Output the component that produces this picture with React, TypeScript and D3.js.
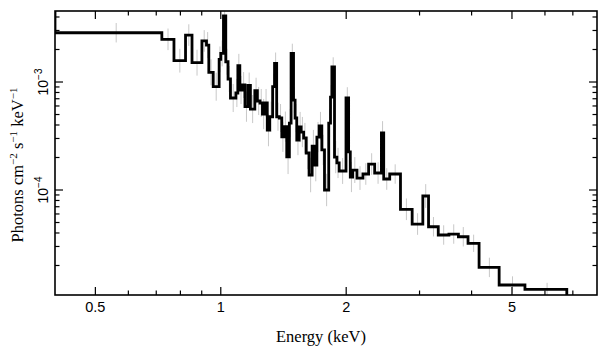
import React from 'react';
import * as d3 from 'd3';

// Bin edges (keV) and unfolded flux (photons cm^-2 s^-1 keV^-1)
const edges = [
  0.4, 0.722, 0.772, 0.823, 0.853, 0.901, 0.924, 0.936, 0.959, 0.991,
  1.0, 1.015, 1.028, 1.041, 1.055, 1.087, 1.099, 1.111, 1.126, 1.143,
  1.162, 1.178, 1.207, 1.224, 1.242, 1.259, 1.276, 1.293, 1.31, 1.332,
  1.346, 1.362, 1.382, 1.401, 1.418, 1.44, 1.461, 1.475, 1.495, 1.508,
  1.522, 1.542, 1.559, 1.581, 1.603, 1.629, 1.657, 1.68, 1.701, 1.722,
  1.748, 1.774, 1.816, 1.834, 1.848, 1.875, 1.9, 1.924, 1.998, 2.027,
  2.046, 2.072, 2.123, 2.194, 2.264, 2.341, 2.43, 2.461, 2.544, 2.7,
  2.88, 3.055, 3.153, 3.327, 3.529, 3.719, 3.922, 4.169, 4.658, 5.372,
  6.77,
];

const flux = [
  2.86e-3, 2.485e-3, 1.575e-3, 2.72e-3, 1.51e-3, 2.4e-3, 2.2e-3, 1.23e-3, 9.05e-4, 1.62e-3,
  1.84e-3, 4.09e-3, 1.54e-3, 1.066e-3, 7.11e-4, 7.91e-4, 1.415e-3, 8.43e-4, 9.38e-4, 5.91e-4,
  9.28e-4, 5.62e-4, 8.31e-4, 6.67e-4, 6.39e-4, 5.05e-4, 6.39e-4, 3.59e-4, 4.77e-4, 9.05e-4,
  1.49e-3, 4.77e-4, 4.64e-4, 3.11e-4, 3.86e-4, 2.03e-4, 4.17e-4, 1.84e-3, 6.81e-4, 4.64e-4,
  2.9e-4, 3.83e-4, 3.44e-4, 3.03e-4, 2.2e-4, 1.377e-4, 2.55e-4, 1.7e-4, 3.09e-4, 3.92e-4,
  2.35e-4, 1.0e-4, 4.17e-4, 7.26e-4, 1.377e-3, 2.02e-4, 1.78e-4, 1.5e-4, 7.11e-4, 2.25e-4,
  1.32e-4, 1.53e-4, 1.29e-4, 1.406e-4, 1.74e-4, 1.437e-4, 3.37e-4, 1.264e-4, 1.406e-4, 6.63e-5,
  4.84e-5, 8.8e-5, 4.57e-5, 3.83e-5, 3.91e-5, 3.69e-5, 3.21e-5, 1.92e-5, 1.32e-5, 1.204e-5,
];

// Half-length of the error bars (dex)
const errDex = [
  0.09, 0.1, 0.11, 0.1, 0.12, 0.1, 0.12, 0.12, 0.13, 0.12,
  0.12, 0.08, 0.12, 0.12, 0.13, 0.13, 0.11, 0.13, 0.12, 0.14,
  0.12, 0.13, 0.12, 0.13, 0.13, 0.14, 0.13, 0.15, 0.14, 0.12,
  0.1, 0.13, 0.13, 0.14, 0.14, 0.16, 0.13, 0.09, 0.12, 0.13,
  0.14, 0.14, 0.14, 0.14, 0.15, 0.16, 0.15, 0.15, 0.14, 0.13,
  0.14, 0.15, 0.13, 0.11, 0.09, 0.15, 0.14, 0.12, 0.1, 0.13,
  0.14, 0.12, 0.11, 0.1, 0.1, 0.1, 0.11, 0.1, 0.09, 0.1,
  0.1, 0.11, 0.09, 0.09, 0.09, 0.09, 0.08, 0.09, 0.08, 0.06,
];

const xDomain = [0.4, 8];
const yDomain = [1.066e-5, 4.545e-3];
const xMajor = [0.5, 1, 2, 5];
const xMinor = [0.6, 0.7, 0.8, 0.9, 3, 4, 6, 7];
const yMajor = [1e-4, 1e-3];
const yMajorExp = ['−4', '−3'];
const yMinor = [2e-5, 3e-5, 4e-5, 5e-5, 6e-5, 7e-5, 8e-5, 9e-5, 2e-4, 3e-4, 4e-4, 5e-4, 6e-4, 7e-4, 8e-4, 9e-4, 2e-3, 3e-3, 4e-3];

const W = 608, H = 357;
const L = 55, R = 597, T = 11, B = 295;

export default function App() {
  const x = d3.scaleLog().domain(xDomain).range([L, R]);
  const y = d3.scaleLog().domain(yDomain).range([B, T]);

  const pts: [number, number][] = [];
  pts.push([x(edges[0]), T]);
  flux.forEach((f, i) => {
    pts.push([x(edges[i]), y(f)]);
    pts.push([x(edges[i + 1]), y(f)]);
  });
  pts.push([x(edges[edges.length - 1]), B]);
  const line = d3.line();
  const sans = 'Liberation Sans, Arial, Helvetica, sans-serif';
  const serif = 'Liberation Serif, Times New Roman, serif';

  return (
    <svg width={W} height={H} style={{ position: 'absolute', left: 0, top: 0, background: '#fff' }}>
      <defs>
        <clipPath id="plot">
          <rect x={L} y={T} width={R - L} height={B - T} />
        </clipPath>
      </defs>
      <g clipPath="url(#plot)">
        {flux.map((f, i) => {
          const cx = x((edges[i] + edges[i + 1]) / 2);
          const e = Math.pow(10, errDex[i]);
          return <line key={i} x1={cx} x2={cx} y1={y(f * e)} y2={y(f / e)} stroke="#c8c8c8" strokeWidth={1} />;
        })}
        <path d={line(pts) || ''} fill="none" stroke="#000" strokeWidth={2.8} strokeLinejoin="miter" />
      </g>
      {/* ticks */}
      <g stroke="#000" strokeWidth={1.2}>
        {xMajor.map((v) => (
          <g key={'xm' + v}>
            <line x1={x(v)} x2={x(v)} y1={B} y2={B - 8} />
            <line x1={x(v)} x2={x(v)} y1={T} y2={T + 8} />
          </g>
        ))}
        {xMinor.map((v) => (
          <g key={'xn' + v}>
            <line x1={x(v)} x2={x(v)} y1={B} y2={B - 4.5} />
            <line x1={x(v)} x2={x(v)} y1={T} y2={T + 4.5} />
          </g>
        ))}
        {yMajor.map((v) => (
          <g key={'ym' + v}>
            <line x1={L} x2={L + 8} y1={y(v)} y2={y(v)} />
            <line x1={R} x2={R - 8} y1={y(v)} y2={y(v)} />
          </g>
        ))}
        {yMinor.map((v) => (
          <g key={'yn' + v}>
            <line x1={L} x2={L + 4.5} y1={y(v)} y2={y(v)} />
            <line x1={R} x2={R - 4.5} y1={y(v)} y2={y(v)} />
          </g>
        ))}
      </g>
      <rect x={L} y={T} width={R - L} height={B - T} fill="none" stroke="#000" strokeWidth={1.6} />
      {/* x tick labels */}
      {xMajor.map((v) => (
        <text key={'xl' + v} x={x(v)} y={312} textAnchor="middle" fontFamily={sans} fontSize={14.5} fill="#000">
          {String(v)}
        </text>
      ))}
      {/* y tick labels */}
      {yMajor.map((v, i) => (
        <text key={'yl' + v} transform={`translate(48,${y(v)}) rotate(-90)`} textAnchor="middle" fontFamily={sans} fontSize={14} fill="#000">
          10<tspan fontSize={10} dy={-6}>{yMajorExp[i]}</tspan>
        </text>
      ))}
      <text x={321} y={342} textAnchor="middle" fontFamily={serif} fontSize={16.5} fill="#000">
        Energy (keV)
      </text>
      <text transform={`translate(23,165) rotate(-90)`} textAnchor="middle" fontFamily={serif} fontSize={16.5} fill="#000">
        Photons cm<tspan fontSize={11} dy={-6}>−2</tspan>
        <tspan dy={6}> s</tspan>
        <tspan fontSize={11} dy={-6}>−1</tspan>
        <tspan dy={6}> keV</tspan>
        <tspan fontSize={11} dy={-6}>−1</tspan>
      </text>
    </svg>
  );
}
